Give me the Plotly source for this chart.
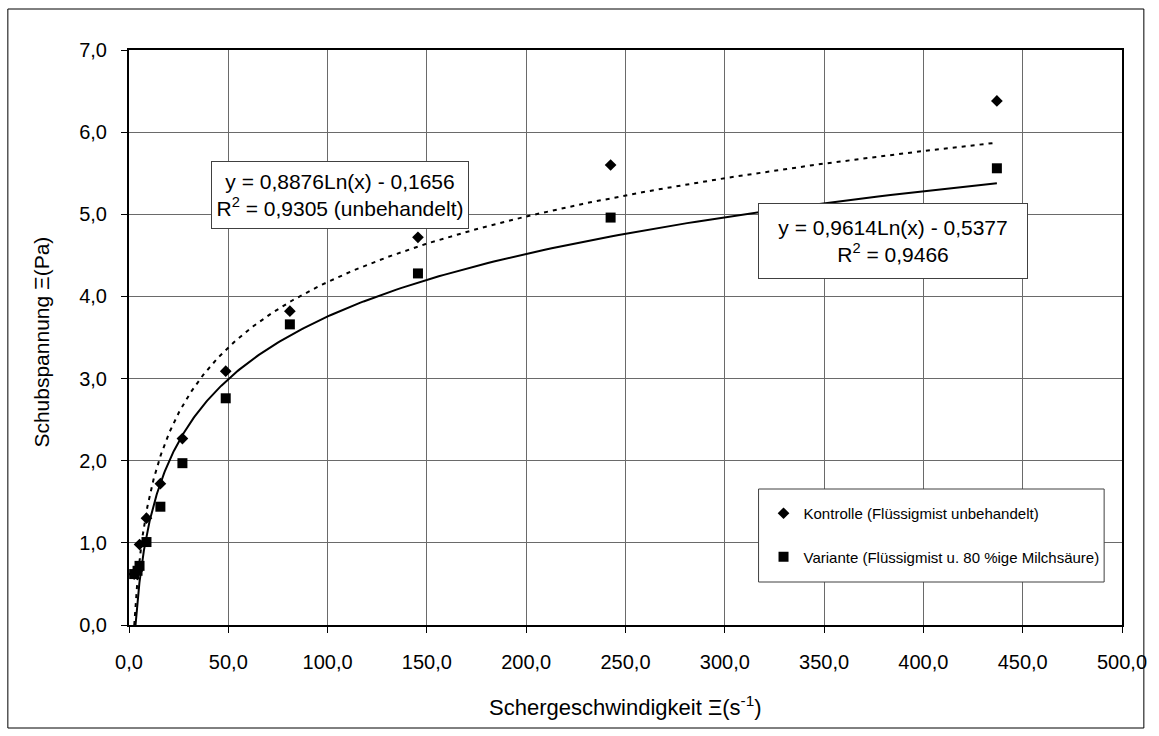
import numpy as np
import plotly.graph_objects as go

# ---- data ----
shear_rate = [2.6, 4.3, 5.3, 8.8, 15.8, 26.9, 48.7, 81.0, 145.5, 242.5, 437.0]
kontrolle = [0.62, 0.66, 0.98, 1.30, 1.72, 2.27, 3.09, 3.82, 4.72, 5.60, 6.38]
variante = [0.62, 0.66, 0.72, 1.01, 1.44, 1.97, 2.76, 3.66, 4.28, 4.96, 5.56]

# logarithmic trend lines as drawn in the picture: y = a*ln(x) + b
trend_kontrolle = (1.15, -1.12)   # dotted
trend_variante = (1.10, -1.31)    # solid
trend_x_end = 437.0

x_tickvals = [0, 50, 100, 150, 200, 250, 300, 350, 400, 450, 500]
x_ticktext = ["0,0", "50,0", "100,0", "150,0", "200,0", "250,0", "300,0",
              "350,0", "400,0", "450,0", "500,0"]
y_tickvals = [0, 1, 2, 3, 4, 5, 6, 7]
y_ticktext = ["0,0", "1,0", "2,0", "3,0", "4,0", "5,0", "6,0", "7,0"]

label_kontrolle = "Kontrolle (Flüssigmist unbehandelt)"
label_variante = "Variante (Flüssigmist u. 80 %ige Milchsäure)"
eq_kontrolle = "y = 0,8876Ln(x) - 0,1656<br>R<sup>2</sup> = 0,9305 (unbehandelt)"
eq_variante = "y = 0,9614Ln(x) - 0,5377<br>R<sup>2</sup> = 0,9466"
x_title = "Schergeschwindigkeit Ξ(s<sup>-1</sup>)"
y_title = "Schubspannung Ξ(Pa)"

FONT = "Liberation Sans, Arial, sans-serif"


def trend(coef):
    a, b = coef
    x0 = float(np.exp(-b / a))
    xs = np.geomspace(x0, trend_x_end, 300)
    return xs, a * np.log(xs) + b


fig = go.Figure()

tx, ty = trend(trend_kontrolle)
fig.add_trace(go.Scatter(x=tx, y=ty, mode="lines", showlegend=False,
                         line=dict(color="black", width=2, dash="4px,5px"),
                         hoverinfo="skip"))
tx, ty = trend(trend_variante)
fig.add_trace(go.Scatter(x=tx, y=ty, mode="lines", showlegend=False,
                         line=dict(color="black", width=2),
                         hoverinfo="skip"))

fig.add_trace(go.Scatter(x=shear_rate, y=kontrolle, mode="markers",
                         name=label_kontrolle, legendgroup="k",
                         marker=dict(symbol="diamond", size=9, color="black")))
fig.add_trace(go.Scatter(x=shear_rate, y=variante, mode="markers",
                         name=label_variante, legendgroup="v",
                         marker=dict(symbol="square", size=10, color="black")))

W, H = 1159, 736
L, R, T, B = 129, 30, 50, 111
pw, ph = W - L - R, H - T - B


def px(xp):
    return (xp - L) / pw


def py(yp):
    return (H - B - yp) / ph


axis_common = dict(
    showline=True, linecolor="black", linewidth=2, mirror=True,
    showgrid=True, gridcolor="#6a6a6a", gridwidth=1,
    zeroline=False, ticks="outside", ticklen=6, tickcolor="black",
    tickfont=dict(family=FONT, size=20, color="black"),
)

fig.update_xaxes(range=[0, 500], tickmode="array", tickvals=x_tickvals,
                 ticktext=x_ticktext, ticklabelstandoff=12, **axis_common)
fig.update_yaxes(range=[0, 7], tickmode="array", tickvals=y_tickvals,
                 ticktext=y_ticktext, ticklabelstandoff=10, **axis_common)

box_line = dict(color="#404040", width=1)

fig.update_layout(
    width=W, height=H,
    margin=dict(l=L, r=R, t=T, b=B),
    paper_bgcolor="white", plot_bgcolor="white",
    font=dict(family=FONT, color="black"),
    legend=dict(x=px(768), y=py(497), xanchor="left", yanchor="top",
                borderwidth=0, bgcolor="rgba(0,0,0,0)",
                font=dict(family=FONT, size=15, color="black"),
                traceorder="grouped", tracegroupgap=21),
    shapes=[
        dict(type="rect", xref="paper", yref="paper",
             x0=px(7), x1=px(1151), y0=py(728), y1=py(9),
             line=dict(color="black", width=1), layer="below"),
        dict(type="rect", xref="paper", yref="paper",
             x0=px(763), x1=px(1111), y0=py(582), y1=py(489),
             line=box_line, fillcolor="white", layer="above"),
    ],
    annotations=[
        dict(xref="paper", yref="paper", x=px(341), y=py(195),
             xanchor="center", yanchor="middle",
             text=eq_kontrolle, showarrow=False, align="center",
             font=dict(family=FONT, size=21, color="black"),
             bgcolor="white", bordercolor="#404040", borderwidth=1,
             borderpad=0, width=256, height=66),
        dict(xref="paper", yref="paper", x=px(898), y=py(241),
             xanchor="center", yanchor="middle",
             text=eq_variante, showarrow=False, align="center",
             font=dict(family=FONT, size=21, color="black"),
             bgcolor="white", bordercolor="#404040", borderwidth=1,
             borderpad=0, width=268, height=74),
        dict(xref="paper", yref="paper", x=px(629), y=py(706),
             xanchor="center", yanchor="middle",
             text=x_title, showarrow=False,
             font=dict(family=FONT, size=22, color="black")),
        dict(xref="paper", yref="paper", x=px(40), y=py(342),
             xanchor="center", yanchor="middle",
             text=y_title, showarrow=False, textangle=-90,
             font=dict(family=FONT, size=21, color="black")),
    ],
)

fig.write_html("out.html")
